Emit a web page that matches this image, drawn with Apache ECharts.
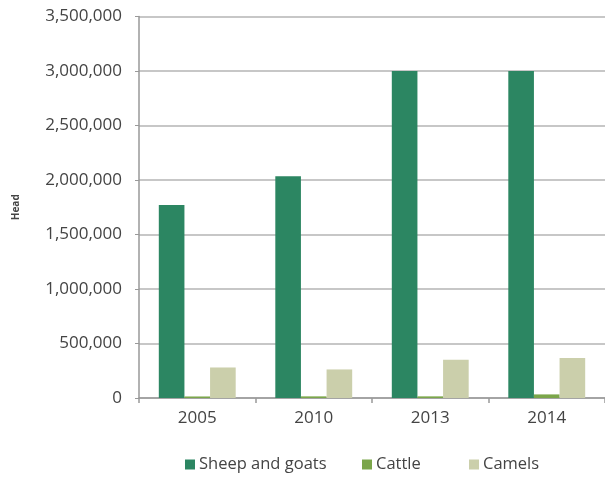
<!DOCTYPE html>
<html><head><meta charset="utf-8">
<script src="https://cdn.jsdelivr.net/npm/echarts@6/dist/echarts.min.js"></script>
<style>html,body{margin:0;padding:0;background:#fff}#c{width:605px;height:477px}</style>
</head><body><div id="c"></div>
<script>
var categories = ['2005', '2010', '2013', '2014'];
var sheepGoats = [1770000, 2035000, 3000000, 3000000];
var cattle = [14000, 15000, 15000, 33000];
var camels = [280000, 262000, 350000, 368000];
var seriesNames = ['Sheep and goats', 'Cattle', 'Camels'];
var colors = ['#2c8662', '#7ba64a', '#cbcfab'];
var font = 'Open Sans';
var legendLeft = [183, 360, 467];
function mkLegend(i) {
  return {
    data: [seriesNames[i]], top: 454, left: legendLeft[i], padding: 2,
    itemWidth: 10, itemHeight: 10, itemGap: 4, icon: 'rect',
    textStyle: {fontFamily: font, fontSize: 16.5, color: '#444', padding: [0, 0, 0, -1]}
  };
}
var chart = echarts.init(document.getElementById('c'));
chart.setOption({
  animation: false,
  color: colors,
  grid: {left: 139, right: 0, top: 16.5, bottom: 79, containLabel: false},
  legend: [mkLegend(0), mkLegend(1), mkLegend(2)],
  xAxis: {
    type: 'category', data: categories,
    axisLine: {lineStyle: {color: '#999', width: 1.5}},
    axisTick: {show: true, length: 5, lineStyle: {color: '#999', width: 1.5}},
    axisLabel: {fontFamily: font, fontSize: 17, color: '#444', margin: 12}
  },
  yAxis: {
    type: 'value', min: 0, max: 3500000, interval: 500000,
    name: 'Head', nameLocation: 'middle', nameGap: 118, nameRotate: 90,
    nameTextStyle: {fontFamily: font, fontSize: 10, fontWeight: 'bold', color: '#444'},
    axisLine: {show: true, lineStyle: {color: '#999', width: 1.5}},
    axisTick: {show: true, inside: false, length: 4, lineStyle: {color: '#999'}},
    splitLine: {lineStyle: {color: '#b5b5b5', width: 1.5}},
    axisLabel: {
      fontFamily: font, fontSize: 17, color: '#444', margin: 17,
      formatter: function (v) { return v.toLocaleString('en-US'); }
    }
  },
  series: [
    {name: seriesNames[0], type: 'bar', data: sheepGoats, barGap: '0%', barCategoryGap: '34%'},
    {name: seriesNames[1], type: 'bar', data: cattle, barGap: '0%', barCategoryGap: '34%'},
    {name: seriesNames[2], type: 'bar', data: camels, barGap: '0%', barCategoryGap: '34%'}
  ]
});
</script></body></html>
